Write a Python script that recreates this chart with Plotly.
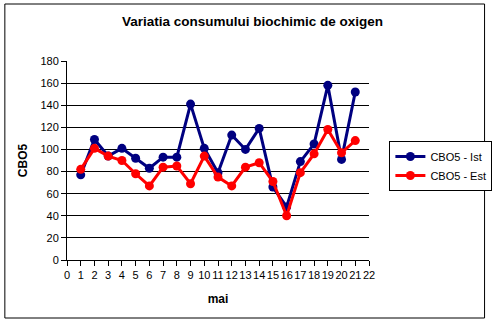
import plotly.graph_objects as go

days = list(range(1, 22))
cbo5_ist = [77, 109, 94, 101, 92, 83, 93, 93, 141, 101, 79, 113, 100, 119, 66, 48, 89, 105, 158, 91, 152]
cbo5_est = [82, 101, 94, 90, 78, 67, 84, 85, 69, 94, 75, 67, 84, 88, 71, 40, 79, 96, 118, 97, 108]
y_ticks = [0, 20, 40, 60, 80, 100, 120, 140, 160, 180]
x_ticks = list(range(0, 23))

FONT = "Liberation Sans, Arial, sans-serif"

fig = go.Figure()
fig.add_trace(go.Scatter(x=days, y=cbo5_ist, name="CBO5 - Ist", mode="lines+markers",
                         line=dict(color="#000080", width=3),
                         marker=dict(symbol="circle", size=9, color="#000080")))
fig.add_trace(go.Scatter(x=days, y=cbo5_est, name="CBO5 - Est", mode="lines+markers",
                         line=dict(color="#FF0000", width=3),
                         marker=dict(symbol="circle", size=9, color="#FF0000")))

fig.update_layout(
    width=504, height=324,
    margin=dict(l=67, r=126, t=61, b=64),
    paper_bgcolor="white", plot_bgcolor="white",
    font=dict(family=FONT, size=11, color="black"),
    title=dict(text="<b>Variatia consumului biochimic de oxigen</b>",
               x=(120 + 385) / 2 / 504, xanchor="center", y=1 - 21 / 324, yanchor="middle",
               font=dict(family=FONT, size=13.5, color="black")),
    xaxis=dict(range=[0, 22], tickmode="array", tickvals=x_ticks, ticktext=[str(v) for v in x_ticks],
               tickangle=0,
               showgrid=False, zeroline=False, showline=True, linecolor="black", linewidth=1,
               ticks="outside", ticklen=5, tickcolor="black", tickfont=dict(size=11),
               title=dict(text="<b>mai</b>", font=dict(size=12), standoff=14)),
    yaxis=dict(range=[0, 180], tickmode="array", tickvals=y_ticks,
               showgrid=True, gridcolor="black", gridwidth=1, zeroline=False,
               showline=True, linecolor="black", linewidth=1,
               ticks="outside", ticklen=5, tickcolor="black", tickfont=dict(size=11),
               title=dict(text="<b>CBO5</b>", font=dict(size=12), standoff=10)),
    legend=dict(x=(399 - 67) / 311, xanchor="left", y=(260 - 141) / 199, yanchor="top",
                bordercolor="black", borderwidth=1, bgcolor="white",
                font=dict(family=FONT, size=11), tracegroupgap=0, itemwidth=30),
    showlegend=True,
    shapes=[dict(type="rect", xref="paper", yref="paper",
                 x0=(3 - 67) / 311, x1=(497 - 67) / 311,
                 y0=(260 - 318) / 199, y1=(260 - 4) / 199,
                 line=dict(color="black", width=1), fillcolor="rgba(0,0,0,0)", layer="below")],
)

fig.write_html("out.html")
